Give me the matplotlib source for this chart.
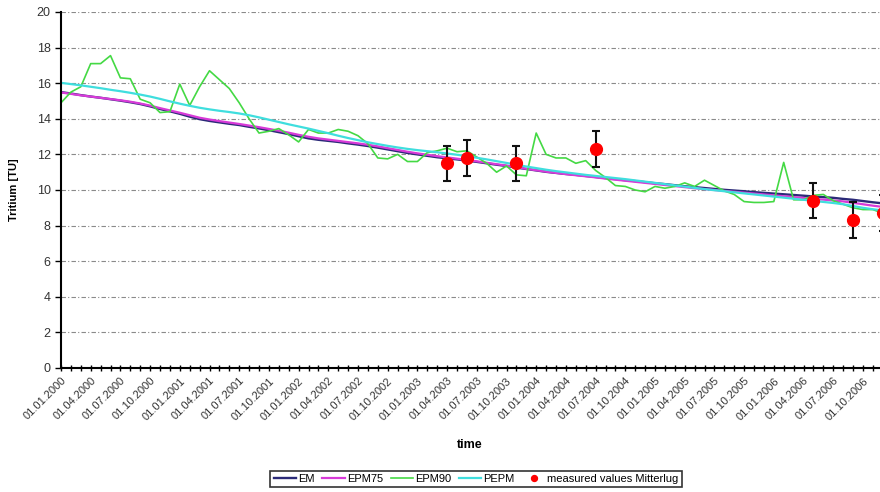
"""
Tritium model curves (EM / EPM / PEPM) vs measured values, monthly 2000-2006
"""

import numpy as np
import matplotlib
matplotlib.use('Agg')
import matplotlib.pyplot as plt

plt.rcParams['font.family'] = ['Liberation Sans', 'DejaVu Sans']

# monthly model output, Jan 2000 .. Dec 2006 (84 months)
em = [
    15.50, 15.42, 15.33, 15.25, 15.18, 15.10, 15.02, 14.93, 14.83, 14.70,
    14.55, 14.42, 14.28, 14.12, 13.98, 13.88, 13.80, 13.72, 13.65, 13.55,
    13.46, 13.36, 13.25, 13.14, 13.02, 12.90, 12.82, 12.76, 12.70, 12.62,
    12.55, 12.47, 12.38, 12.28, 12.18, 12.08, 12.00, 11.92, 11.84, 11.78,
    11.72, 11.65, 11.58, 11.50, 11.42, 11.35, 11.26, 11.18, 11.10, 11.02,
    10.96, 10.90, 10.85, 10.79, 10.73, 10.67, 10.61, 10.55, 10.50, 10.44,
    10.38, 10.33, 10.27, 10.21, 10.16, 10.11, 10.06, 10.01, 9.97, 9.93,
    9.88, 9.84, 9.80, 9.76, 9.72, 9.68, 9.64, 9.60, 9.56, 9.50,
    9.45, 9.38, 9.31, 9.25,
]
epm75 = [
    15.48, 15.40, 15.32, 15.25, 15.18, 15.11, 15.04, 14.96, 14.86, 14.74,
    14.60, 14.47, 14.34, 14.20, 14.06, 13.96, 13.87, 13.79, 13.71, 13.62,
    13.53, 13.43, 13.33, 13.22, 13.10, 12.99, 12.90, 12.83, 12.76, 12.69,
    12.62, 12.54, 12.45, 12.35, 12.25, 12.15, 12.06, 11.98, 11.90, 11.83,
    11.76, 11.69, 11.61, 11.53, 11.45, 11.37, 11.28, 11.19, 11.11, 11.03,
    10.96, 10.89, 10.83, 10.77, 10.71, 10.64, 10.58, 10.52, 10.46, 10.40,
    10.34, 10.28, 10.22, 10.16, 10.10, 10.05, 10.00, 9.95, 9.90, 9.85,
    9.80, 9.75, 9.70, 9.65, 9.60, 9.55, 9.50, 9.46, 9.41, 9.36,
    9.28, 9.20, 9.12, 9.05,
]
epm90 = [
    14.90, 15.50, 15.80, 17.10, 17.10, 17.55, 16.30, 16.25, 15.10, 14.90,
    14.35, 14.40, 15.95, 14.75, 15.80, 16.70, 16.20, 15.70, 14.90, 14.00,
    13.20, 13.30, 13.45, 13.10, 12.70, 13.40, 13.20, 13.20, 13.40, 13.30,
    13.05, 12.60, 11.80, 11.75, 12.00, 11.60, 11.60, 12.10, 12.20, 12.35,
    12.15, 12.20, 11.85, 11.50, 11.00, 11.35, 10.85, 10.80, 13.20, 12.00,
    11.80, 11.80, 11.50, 11.65, 11.10, 10.70, 10.25, 10.20, 10.00, 9.90,
    10.20, 10.10, 10.20, 10.40, 10.20, 10.55, 10.25, 9.95, 9.75, 9.35,
    9.30, 9.30, 9.35, 11.55, 9.45, 9.45, 9.70, 9.75, 9.40, 9.20,
    9.00, 8.90, 8.90, 8.70,
]
pepm = [
    16.02, 15.95, 15.88, 15.80, 15.72, 15.63, 15.55, 15.46, 15.36, 15.25,
    15.12, 14.98, 14.85, 14.73, 14.62, 14.53, 14.45, 14.38, 14.30, 14.20,
    14.08, 13.95, 13.82, 13.69, 13.57, 13.45, 13.32, 13.19, 13.05, 12.92,
    12.80, 12.68, 12.58, 12.48, 12.39, 12.31, 12.24, 12.18, 12.12, 12.05,
    11.98, 11.90, 11.81, 11.72, 11.62, 11.52, 11.42, 11.32, 11.23, 11.14,
    11.06, 10.99, 10.92, 10.85, 10.79, 10.73, 10.67, 10.61, 10.54, 10.47,
    10.40, 10.33, 10.26, 10.19, 10.12, 10.05, 9.99, 9.93, 9.87, 9.81,
    9.75, 9.69, 9.63, 9.57, 9.51, 9.45, 9.39, 9.33, 9.27, 9.20,
    9.10, 9.00, 8.92, 8.85,
]

# measured tritium at Mitterlug (year-month), +/- 1 TU
meas_dates = ["2003-04", "2003-06", "2003-11", "2004-07", "2006-05", "2006-09", "2006-12"]
meas_vals = [11.5, 11.8, 11.5, 12.3, 9.4, 8.3, 8.7]
meas_err = [1.0, 1.0, 1.0, 1.0, 1.0, 1.0, 1.0]

tick_labels = [f"01.{mo:02d}.{yr}" for yr in range(2000, 2007) for mo in (1, 4, 7, 10)]

months = np.arange(len(em))
meas_x = [(int(d[:4]) - 2000) * 12 + int(d[5:]) - 1 for d in meas_dates]

fig = plt.figure(figsize=(8.8, 4.92), dpi=100)
# plot area runs past the right edge of the page
ax = fig.add_axes([61 / 880, 124 / 492, 9.9 * 84 / 880, 356 / 492])

ax.plot(months, em, color='#2b2a78', lw=1.7, label='EM')
ax.plot(months, epm75, color='#d83ad8', lw=1.6, label='EPM75')
ax.plot(months, epm90, color='#44d944', lw=1.2, label='EPM90')
ax.plot(months, pepm, color='#3fdede', lw=1.6, label='PEPM')
ax.errorbar(meas_x, meas_vals, yerr=meas_err, fmt='none', ecolor='#111111',
            elinewidth=1.5, capsize=3, capthick=1.5)
ax.plot(meas_x, meas_vals, 'o', color='#ff0000', ms=8.5, mec='#ff0000',
        label='measured values Mitterlug')

ax.set_xlim(0, 84)
ax.set_ylim(0, 20)
ax.set_yticks(np.arange(0, 21, 2))
ax.set_xticks(np.arange(0, 84, 3))
ax.set_xticks(months, minor=True)
ax.set_xticklabels(tick_labels, rotation=45, ha='right', rotation_mode='anchor',
                   fontsize=8, color='#333333')
ax.tick_params(axis='x', which='both', direction='inout', length=5, width=1,
               pad=3)
ax.tick_params(axis='y', direction='out', length=4, width=1, labelsize=9,
               labelcolor='#333333')

ax.grid(axis='y', color='#8a8a8a', lw=0.8, linestyle=(0, (4, 2, 1, 2)))
ax.set_axisbelow(True)
for side in ('top', 'right'):
    ax.spines[side].set_visible(False)
for side in ('left', 'bottom'):
    ax.spines[side].set_linewidth(1.5)

fig.text(14 / 880, 1 - 190 / 492, 'Tritium [TU]', rotation=90, ha='center',
         va='center', fontsize=8, fontweight='bold')
fig.text(470 / 880, 1 - 445 / 492, 'time', ha='center', va='center',
         fontsize=9, fontweight='bold')

leg = fig.legend(loc='center', bbox_to_anchor=(476 / 880, 1 - 479 / 492),
                 ncol=5, fontsize=8, frameon=True, fancybox=False,
                 edgecolor='black', handlelength=2.0, handletextpad=0.2,
                 columnspacing=0.7, borderpad=0.3, borderaxespad=0,
                 markerscale=0.5)
leg.get_frame().set_linewidth(1.2)

plt.savefig('out.png', dpi=100)
plt.close()
